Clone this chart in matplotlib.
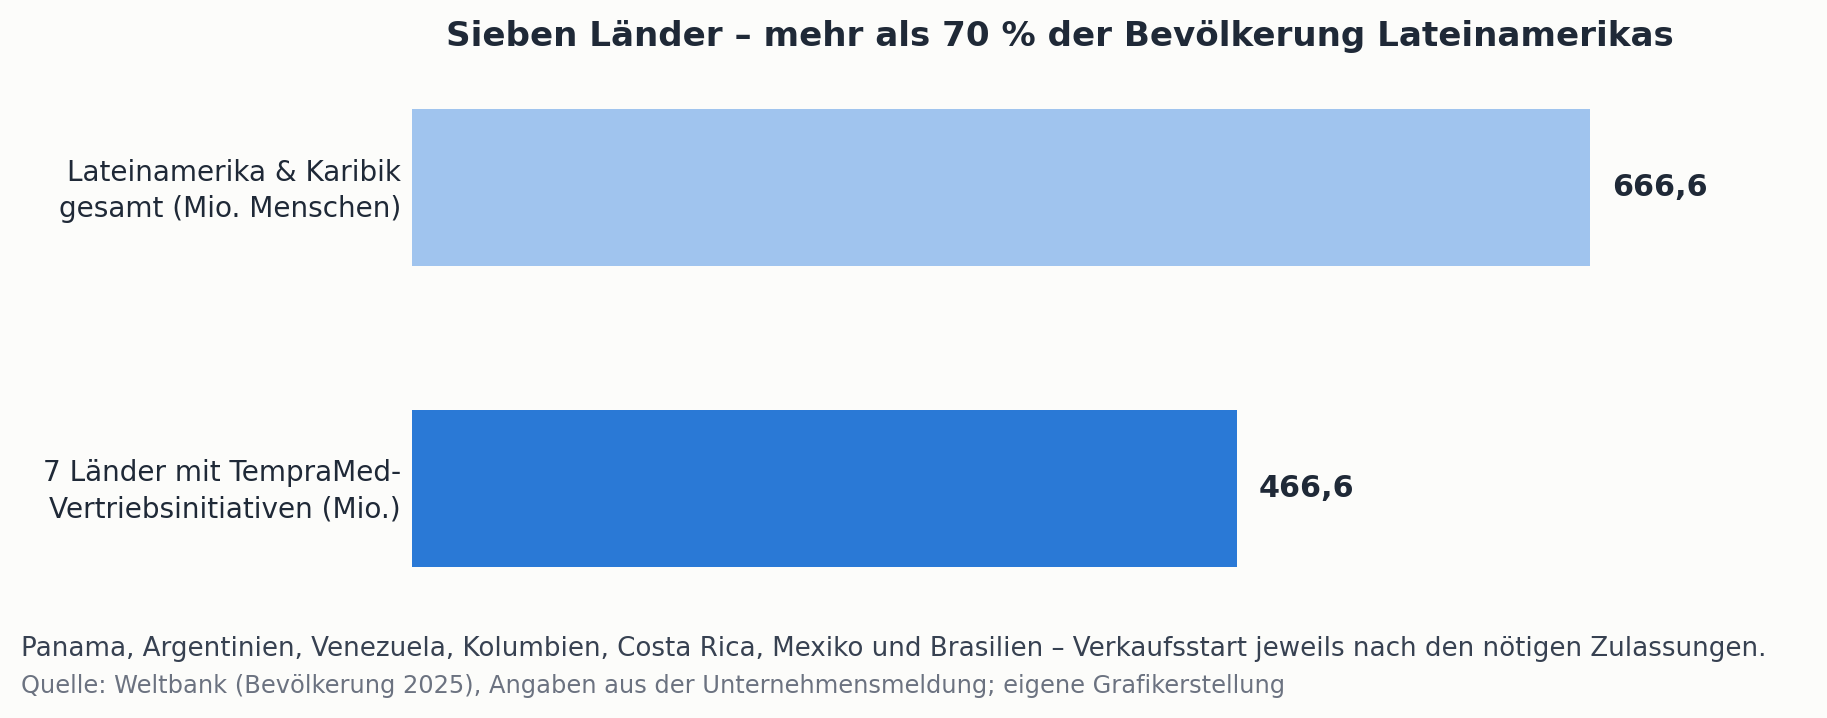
import matplotlib
matplotlib.use("Agg")
import matplotlib.pyplot as plt
import matplotlib.transforms as mtransforms

categories = ["Lateinamerika & Karibik\ngesamt (Mio. Menschen)",
              "7 Länder mit TempraMed-\nVertriebsinitiativen (Mio.)"]
values = [666.6, 466.6]
value_labels = ["666,6", "466,6"]
bar_colors = ["#A0C4EE", "#2A79D6"]

title = "Sieben Länder – mehr als 70 % der Bevölkerung Lateinamerikas"
footnote = ("Panama, Argentinien, Venezuela, Kolumbien, Costa Rica, Mexiko und Brasilien – "
            "Verkaufsstart jeweils nach den nötigen Zulassungen.")
source = "Quelle: Weltbank (Bevölkerung 2025), Angaben aus der Unternehmensmeldung; eigene Grafikerstellung"

BG = "#FCFCFA"
TXT = "#1F2937"

W, H = 1827, 718
fig = plt.figure(figsize=(W / 100, H / 100), dpi=100, facecolor=BG)
ax = fig.add_axes([412 / W, 1 - 589.5 / H, 1296 / W, 503 / H], facecolor=BG)

y = list(range(len(categories)))
ax.barh(y, values, height=0.52, color=bar_colors)
ax.set_ylim(1.336, -0.336)
ax.set_xlim(0, max(values) * 1.1)

ax.set_yticks(y)
ax.set_yticklabels(categories, fontsize=20.1, color=TXT, linespacing=1.38)
ax.tick_params(axis="y", length=0, pad=8)
shift = mtransforms.ScaledTranslation(0, 4 / 100, fig.dpi_scale_trans)
for lbl in ax.get_yticklabels():
    lbl.set_transform(lbl.get_transform() + shift)
ax.set_xticks([])
for s in ax.spines.values():
    s.set_visible(False)

for yi, v, lab in zip(y, values, value_labels):
    ax.text(v + max(values) * 0.019, yi, lab, va="center", ha="left",
            fontsize=21.8, fontweight="bold", color=TXT)

fig.text((412 + 648) / W, 1 - 45.7 / H, title, ha="center", va="baseline",
         fontsize=24.6, fontweight="bold", color=TXT)
fig.text(21 / W, 1 - 656.5 / H, footnote, ha="left", va="baseline",
         fontsize=18.85, color="#374151")
fig.text(21 / W, 1 - 693.5 / H, source, ha="left", va="baseline",
         fontsize=17.4, color="#6B7280")

fig.savefig("out.png", dpi=100, facecolor=BG)
